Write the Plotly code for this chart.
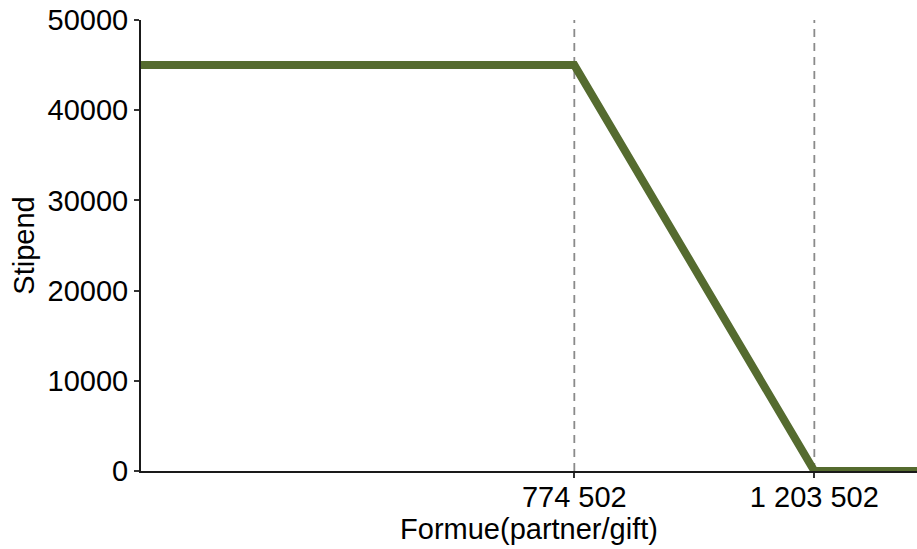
import plotly.graph_objects as go

formue = [0, 774502, 1203502, 1400000]
stipend = [45000, 45000, 0, 0]
cutoffs = [774502, 1203502]
cutoff_labels = ["774 502", "1 203 502"]
y_ticks = [0, 10000, 20000, 30000, 40000, 50000]
y_tick_labels = ["0", "10000", "20000", "30000", "40000", "50000"]

fig = go.Figure()
fig.add_trace(go.Scatter(x=formue, y=stipend, mode="lines",
                         line=dict(color="#556B2F", width=8), cliponaxis=True,
                         showlegend=False))
for c in cutoffs:
    fig.add_shape(type="line", x0=c, x1=c, y0=0, y1=50000, xref="x", yref="y",
                  line=dict(color="#8a8a8a", width=1.8, dash="8px,6px"), layer="below")

font = dict(family="Liberation Sans, Arial, sans-serif", size=29, color="#000000")
fig.update_layout(
    width=917, height=549,
    margin=dict(l=141, r=0, t=20, b=78, autoexpand=False),
    paper_bgcolor="white", plot_bgcolor="white",
    font=font,
    xaxis=dict(range=[0, 1387000], tickvals=cutoffs, ticktext=cutoff_labels,
               showgrid=False, zeroline=False, showline=True, linecolor="#1a1a1a",
               linewidth=2, ticks="outside", ticklen=5, tickwidth=1.5, tickcolor="#333",
               tickfont=font, automargin=False, ticklabeloverflow="allow",
               ticklabelstandoff=-6,
               title=dict(text="Formue(partner/gift)", font=font, standoff=0)),
    yaxis=dict(range=[0, 50000], tickvals=y_ticks, ticktext=y_tick_labels,
               showgrid=False, zeroline=False,
               showline=True, linecolor="#1a1a1a", linewidth=2, ticks="outside",
               ticklen=5, tickwidth=1.5, tickcolor="#333", tickfont=font,
               automargin=False, ticklabeloverflow="allow",
               title=dict(text="Stipend", font=font, standoff=4)),
)
fig.write_html("out.html", config={"displayModeBar": False},
               post_script="document.body.style.margin='0';document.body.style.overflow='hidden';")
